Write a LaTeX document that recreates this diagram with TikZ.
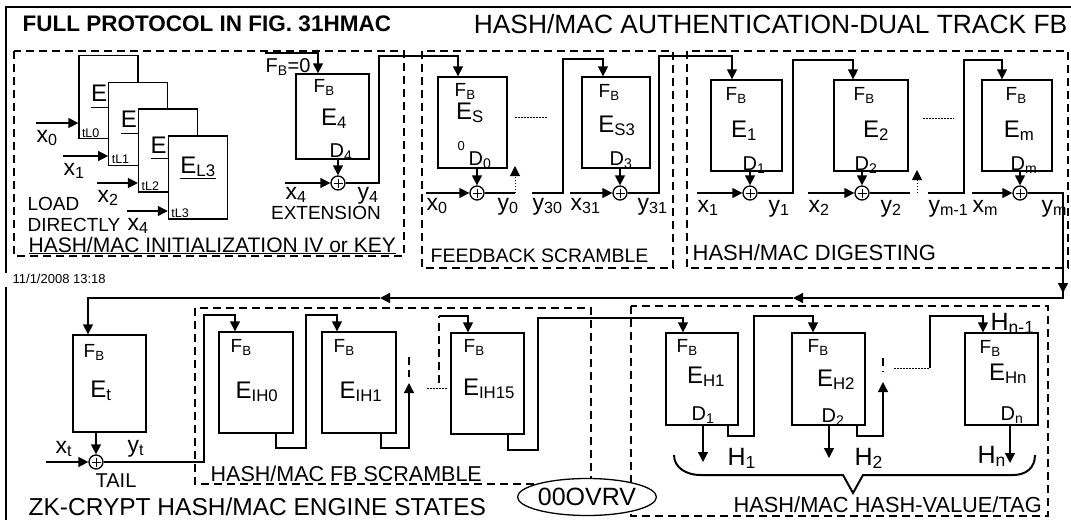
\documentclass[tikz,border=0pt]{standalone}
\usepackage{fontspec}
\setmainfont{Liberation Sans}
\usetikzlibrary{arrows.meta,calc,shapes.geometric}
\newcommand\fs[1]{\fontsize{#1}{#1}\selectfont}
\begin{document}
\begin{tikzpicture}[x=1pt,y=-1pt,line width=1.3pt,
  >={Triangle[length=10pt,width=10pt]},
  blk/.style={draw,fill=white,inner sep=0,minimum width=72,minimum height=91},
  xor/.style={circle,draw,fill=white,inner sep=0,minimum size=14,
    path picture={\draw[line width=1pt] ($(path picture bounding box.center)+(-4.5,0)$) -- ++(9,0)
      ($(path picture bounding box.center)+(0,-4.5)$) -- ++(0,9);}},
  zone/.style={dash pattern=on 8pt off 5pt},
  dotline/.style={line width=1pt,dash pattern=on 1.5pt off 1.5pt},
  fb/.style={inner sep=0,anchor=base west,font=\fs{19}},
  ename/.style={inner sep=0,anchor=base,font=\fs{24}},
  dname/.style={inner sep=0,anchor=base,font=\fs{20}},
  var/.style={inner sep=0,anchor=base west,font=\fs{23}},
  hvar/.style={inner sep=0,anchor=base west,font=\fs{25}},
  caption/.style={inner sep=0,anchor=base west,font=\fs{20}}]
\useasboundingbox (0,0) rectangle (1071,520);

% frame and titles
\draw (6,273) -- (6,7) -- (1071,7);
\draw (6,287) -- (6,520);
\node[inner sep=0,anchor=base west,font=\bfseries\fs{22.5}] (ttl) at (22,31) {FULL PROTOCOL IN FIG. 31HMAC};
\node[inner sep=0,anchor=base east,font=\fs{26.4}] (ttr) at (1068,33) {HASH/MAC AUTHENTICATION-DUAL TRACK FB};
\node[inner sep=0,anchor=base west,font=\fs{13}] (date) at (12,283) {11/1/2008 13:18};

% dashed zones
\draw[zone] (14,51) rectangle (404,256);
\draw[zone] (422,51) rectangle (673,268);
\draw[zone] (687,51) rectangle (1068,268);
\draw[zone] (195,308) rectangle (591,484);
\draw[zone] (631,306) rectangle (1048,516);

% initialization: stacked engines
\foreach \i/\dy in {0/47,1/46,2/45,3/38}{
  \node[blk,minimum width=59,minimum height=83] (el\i) at (108.5+29.8*\i,97+26.8*\i) {};
  \node[inner sep=0,anchor=base west,font=\fs{24}] (elt\i) at ($(el\i.north west)+(12,\dy)$) {\underline{E\textsubscript{L\i}}};
  \node[inner sep=0,anchor=base west,font=\fs{12.5}] (tl\i) at ($(el\i.south west)+(3,-2)$) {tL\i};
}
\foreach \i/\xs/\ys/\lab in {0/36/123/0,1/63/156/1,2/97/183/2,3/127/211/4}{
  \coordinate (xs\i) at (\xs,\ys);
  \draw[->] (xs\i) -- (xs\i -| el\i.west);
  \node[var] (xl\i) at (\xs,\ys+19) {x\textsubscript{\lab}};
}
\node[caption,font=\fs{19}] (load) at (27,210) {LOAD};
\node[caption,font=\fs{19}] (direct) at (27,231) {DIRECTLY};
\node[caption,font=\fs{21}] (initcap) at (28,252) {\underline{HASH/MAC INITIALIZATION IV or KEY}};

% extension engine
\node[blk,minimum width=73,minimum height=85] (e4) at (332.5,116.5) {};
\node[fb] (e4f) at (313,92) {F\textsubscript{B}};
\node[ename] (e4n) at (334,125) {E\textsubscript{4}};
\node[dname] (e4d) at (341,157) {D\textsubscript{4}};
\node[caption] (fb0) at (265,72) {F\textsubscript{B}=0};
\node[xor] (x4o) at (338,183) {};
\node[var] (x4l) at (285,199) {x\textsubscript{4}};
\node[var] (y4l) at (357,199) {y\textsubscript{4}};
\node[inner sep=0,anchor=base,font=\fs{19}] (ext) at (326,219) {EXTENSION};
\coordinate (fb0s) at (265,53);
\coordinate (x4s) at (285,183);
\draw[->] (fb0s) -- (318,53) -- (318,53 |- e4.north);
\draw[->] (e4.south -| x4o) -- (x4o);
\draw[->] (x4s) -- (x4o);

% feedback scramble
\node[blk,minimum width=69] (es) at (472.5,122.5) {};
\node[fb] (esf) at (454,96) {F\textsubscript{B}};
\node[ename] (esn) at (470,119) {E\textsubscript{S}};
\node[inner sep=0,anchor=base west,font=\fs{13}] (es0) at (457,150) {0};
\node[dname] (esd) at (480,165) {D\textsubscript{0}};
\node[blk,minimum width=68] (es3) at (616,122.5) {};
\node[fb] (es3f) at (598,97) {F\textsubscript{B}};
\node[ename] (es3n) at (617,132) {E\textsubscript{S3}};
\node[dname] (es3d) at (621,165) {D\textsubscript{3}};
\node[xor] (xs0) at (477,193) {};
\node[xor] (xs3) at (620,193) {};
\node[var] (fx0) at (426,210) {x\textsubscript{0}};
\node[var] (fy0) at (497,210) {y\textsubscript{0}};
\node[var] (fy30) at (532,210) {y\textsubscript{30}};
\node[var] (fx31) at (570,210) {x\textsubscript{31}};
\node[var] (fy31) at (637,210) {y\textsubscript{31}};
\node[caption,font=\fs{19.5}] (fbcap) at (430,262) {FEEDBACK SCRAMBLE};
\draw[->] (x4o) -- (379,183) -- (379,56) -- (458,56) -- (458,56 |- es.north);
\draw[->] (es.south -| xs0) -- (xs0);
\draw[->] (426,193) -- (xs0);
\draw (xs0) -- (515,193);
\draw[->,dotline] (515,193) -- (515,166);
\draw[dotline] (515,117) -- (547,117);
\draw[->] (532,193) -- (563,193) -- (563,59) -- (603,59) -- (603,59 |- es3.north);
\draw[->] (es3.south -| xs3) -- (xs3);
\draw[->] (570,193) -- (xs3);

% digesting
\node[blk,minimum width=71] (e1) at (746.5,125.5) {};
\node[blk,minimum width=74] (e2) at (871,125.5) {};
\node[blk,minimum width=70] (em) at (1017,125.5) {};
\node[fb] (e1f) at (725,100) {F\textsubscript{B}};
\node[fb] (e2f) at (853,100) {F\textsubscript{B}};
\node[fb] (emf) at (1005,100) {F\textsubscript{B}};
\node[ename] (e1n) at (744,137) {E\textsubscript{1}};
\node[ename] (e2n) at (876,137) {E\textsubscript{2}};
\node[ename] (emn) at (1019,137) {E\textsubscript{m}};
\node[dname] (e1d) at (754,170) {D\textsubscript{1}};
\node[dname] (e2d) at (866,170) {D\textsubscript{2}};
\node[dname] (emd) at (1024,170) {D\textsubscript{m}};
\node[xor] (xd1) at (750,193) {};
\node[xor] (xd2) at (862,193) {};
\node[xor] (xdm) at (1020,193) {};
\node[var] (dx1) at (697,212) {x\textsubscript{1}};
\node[var] (dy1) at (768,212) {y\textsubscript{1}};
\node[var] (dx2) at (808,212) {x\textsubscript{2}};
\node[var] (dy2) at (880,212) {y\textsubscript{2}};
\node[var] (dym1) at (928,212) {y\textsubscript{m-1}};
\node[var] (dxm) at (972,212) {x\textsubscript{m}};
\node[var] (dym) at (1041,212) {y\textsubscript{m}};
\node[caption,font=\fs{22}] (dgcap) at (692,260) {HASH/MAC DIGESTING};
\draw[->] (xs3) -- (659,193) -- (659,56) -- (732,56) -- (732,56 |- e1.north);
\draw[->] (e1.south -| xd1) -- (xd1);
\draw[->] (697,193) -- (xd1);
\draw[->] (xd1) -- (793,193) -- (793,60) -- (853,60) -- (853,60 |- e2.north);
\draw[->] (e2.south -| xd2) -- (xd2);
\draw[->] (808,193) -- (xd2);
\draw (xd2) -- (910,193);
\draw[->,dotline] (917,193) -- (917,170);
\draw[dotline] (923,118) -- (954,118);
\draw[->] (928,193) -- (964,193) -- (964,60) -- (1002,60) -- (1002,60 |- em.north);
\draw[->] (em.south -| xdm) -- (xdm);
\draw[->] (972,193) -- (xdm);
\draw[->] (xdm) -- (1063,193) -- (1063,293);
\draw[->] (1063,288) -- (1063,298) -- (793,298);
\draw[->] (793,298) -- (380,298);

% tail
\node[blk,minimum width=73,minimum height=97] (et) at (109.5,383.5) {};
\node[fb] (etf) at (83,357) {F\textsubscript{B}};
\node[ename] (etn) at (101,397) {E\textsubscript{t}};
\node[xor] (xt) at (96,462) {};
\node[var] (txt) at (55,453) {x\textsubscript{t}};
\node[var] (tyt) at (127,452) {y\textsubscript{t}};
\node[caption] (tail) at (95,487) {TAIL};
\draw[->] (380,298) -- (88,298) -- (88,298 |- et.north);
\draw[->] (et.south -| xt) -- (xt);
\draw[->] (46,462) -- (xt);

% FB scramble
\node[blk,minimum width=74,minimum height=101] (ih0) at (256,382.5) {};
\node[blk,minimum width=74,minimum height=101] (ih1) at (359,382.5) {};
\node[blk,minimum width=73,minimum height=101] (ih15) at (487.5,383.5) {};
\node[fb] (ih0f) at (230,352) {F\textsubscript{B}};
\node[fb] (ih1f) at (333,352) {F\textsubscript{B}};
\node[fb] (ih15f) at (463,352) {F\textsubscript{B}};
\node[ename] (ih0n) at (257,398) {E\textsubscript{IH0}};
\node[ename] (ih1n) at (361,398) {E\textsubscript{IH1}};
\node[ename] (ih15n) at (489,395) {E\textsubscript{IH15}};
\node[caption,font=\fs{21.5}] (scrcap) at (210,481) {HASH/MAC FB SCRAMBLE};
\draw[->] (xt) -- (204,462) -- (204,315) -- (235,315) -- (235,315 |- ih0.north);
\draw[->] (276,0 |- ih0.south) -- (276,448) -- (306,448) -- (306,315) -- (337,315) -- (337,315 |- ih1.north);
\draw[->] (381,0 |- ih1.south) -- (381,448) -- (409,448) -- (409,383);
\draw[zone] (409,357) -- (409,377);
\draw[dotline] (427,388) -- (448,388);
\draw[zone] (439,383) -- (439,316);
\draw[->] (439,316) -- (468,316) -- (468,316 |- ih15.north);

% hash value / tag
\node[blk,minimum height=92] (h1) at (702,379) {};
\node[blk,minimum width=73,minimum height=92] (h2) at (828.5,379) {};
\node[blk,minimum width=73,minimum height=92] (hn) at (1001.5,379) {};
\node[fb] (h1f) at (676,352) {F\textsubscript{B}};
\node[fb] (h2f) at (807,352) {F\textsubscript{B}};
\node[fb] (hnf) at (979,353) {F\textsubscript{B}};
\node[ename] (h1n) at (706,383) {E\textsubscript{H1}};
\node[ename] (h2n) at (836,386) {E\textsubscript{H2}};
\node[ename] (hnn) at (1008,380) {E\textsubscript{Hn}};
\node[dname] (h1d) at (703,420) {D\textsubscript{1}};
\node[dname] (h2d) at (833,422) {D\textsubscript{2}};
\node[dname] (hnd) at (1012,420) {D\textsubscript{n}};
\node[hvar] (hv1) at (727,465) {H\textsubscript{1}};
\node[hvar] (hv2) at (854,465) {H\textsubscript{2}};
\node[hvar] (hvn) at (977,463) {H\textsubscript{n}};
\node[hvar] (hvn1) at (990,330) {H\textsubscript{n-1}};
\draw[->] (508,0 |- ih15.south) -- (508,450) -- (538,450) -- (538,318) -- (683,318) -- (683,318 |- h1.north);
\draw[->] (703,0 |- h1.south) -- (703,462);
\draw[->] (728,0 |- h1.south) -- (728,436) -- (754,436) -- (754,316) -- (813,316) -- (813,316 |- h2.north);
\draw[->] (829,0 |- h2.south) -- (829,458);
\draw[->] (857,0 |- h2.south) -- (857,436) -- (883,436) -- (883,382);
\draw[zone] (883,358) -- (883,372);
\draw[dotline] (894,368) -- (930,368);
\draw[->] (930,368) -- (930,316) -- (983,316) -- (983,316 |- hn.north);
\draw[->] (1010,0 |- hn.south) -- (1010,463);
\draw[line width=2pt] (674,455) .. controls (674,468) and (687,475) .. (700,475) -- (843,475)
  -- (853,493) -- (863,475) -- (1013,475) .. controls (1026,475) and (1035,468) .. (1035,455);
\node[caption,font=\fs{21.8}] (tagcap) at (733,512) {HASH/MAC HASH-VALUE/TAG};

% bottom captions
\node[caption,font=\fs{24.5}] (zkcap) at (28,515) {ZK-CRYPT HASH/MAC ENGINE STATES};
\node[ellipse,draw,fill=white,inner sep=0,minimum width=134,minimum height=37,font=\fs{25}] (ovrv) at (587,497) {00OVRV};
\end{tikzpicture}
\end{document}
